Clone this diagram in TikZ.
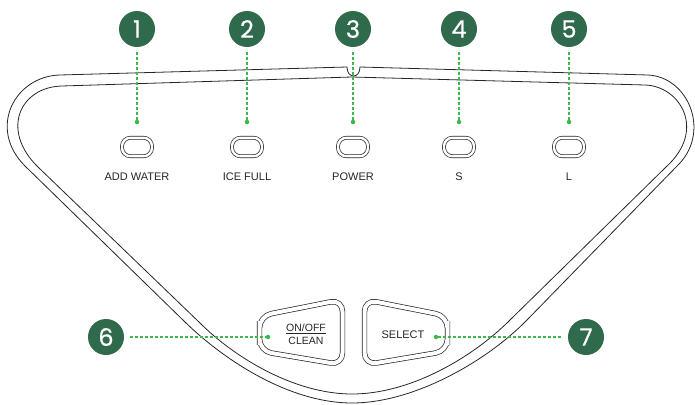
\documentclass[tikz,border=0pt]{standalone}
\usepackage{fontspec}
\setmainfont{Liberation Sans}
\newfontfamily\numfont[FakeBold=0.6]{Poppins}
\usepackage{tikz}

\definecolor{badgegreen}{HTML}{2F6A4C}
\definecolor{leadgreen}{HTML}{3DB84B}

\tikzset{
	badge/.style={circle, fill=badgegreen, text=white, minimum size=36pt, inner sep=0pt, font=\numfont\fontsize{24}{24}\selectfont},
	leaddot/.style={circle, fill=leadgreen, minimum size=4.5pt, inner sep=0pt},
	leadline/.style={leadgreen, line width=1.1pt, dash pattern=on 3pt off 2pt},
	lamp/.style={draw=black!85, line width=0.7pt, double, double distance=2.4pt, rounded corners=8.5pt, minimum width=30pt, minimum height=18.5pt},
	padedge/.style={draw=black!85, line width=0.7pt, double, double distance=4pt, rounded corners=12pt},
	caption/.style={font=\fontsize{11}{11}\selectfont, text=black!85, inner sep=0pt},
	body/.style={draw=black!85, line width=0.8pt}
}

\begin{document}
\begin{tikzpicture}[x=1pt,y=-1pt]
	\useasboundingbox (0,0) rectangle (695,404);

	\draw[body] (60,75) -- (347,67) .. controls (347,79) and (360,79) .. (360,67) -- (648,75)
		.. controls (688,77) and (710,130) .. (680,163) -- (527,320)
		.. controls (487,361) and (414,403) .. (352,403)
		.. controls (290,403) and (225,361) .. (185,322) -- (25,166)
		.. controls (-13,128) and (15,76) .. (60,75) -- cycle;
	\draw[body] (62,86) -- (352,77) -- (645,85)
		.. controls (680,86) and (707,130) .. (666,167) -- (510,320)
		.. controls (472,358) and (410,394) .. (352,394)
		.. controls (295,394) and (235,358) .. (200,323) -- (38,167)
		.. controls (0,130) and (20,87) .. (62,86) -- cycle;

	\draw[padedge] (259.5,333) -- (259.5,316) -- (342.5,299.5) -- (342.5,365) -- (259.5,351) -- cycle;
	\draw[padedge] (447.5,333) -- (447.5,316) -- (364.5,299.5) -- (364.5,365) -- (447.5,351) -- cycle;

	\node[caption, font=\fontsize{10.5}{13}\selectfont, align=center] (onoff) at (306,334.5) {\underline{ON/OFF}\\CLEAN};
	\node[caption] (select) at (403,335) {SELECT};

	\foreach \i/\x/\lab in {1/137/ADD WATER, 2/247/ICE FULL, 3/353/POWER, 4/459/S, 5/569/L}
	{
		\node[badge] (n\i) at (\x,29) {\i};
		\node[leaddot] (d\i) at (\x,122) {};
		\node[lamp] (b\i) at (\x,147) {};
		\node[caption] (t\i) at (\x,177) {\lab};
		\draw[leadline, shorten <=5pt] (n\i) -- (d\i);
	}

	\node[badge] (n6) at (106,337) {6};
	\node[leaddot] (d6) at (268,337) {};
	\draw[leadline, shorten <=6pt] (n6) -- (d6);

	\node[badge] (n7) at (586,337) {7};
	\node[leaddot] (d7) at (436,337) {};
	\draw[leadline, shorten >=6pt] (d7) -- (n7);
\end{tikzpicture}
\end{document}
